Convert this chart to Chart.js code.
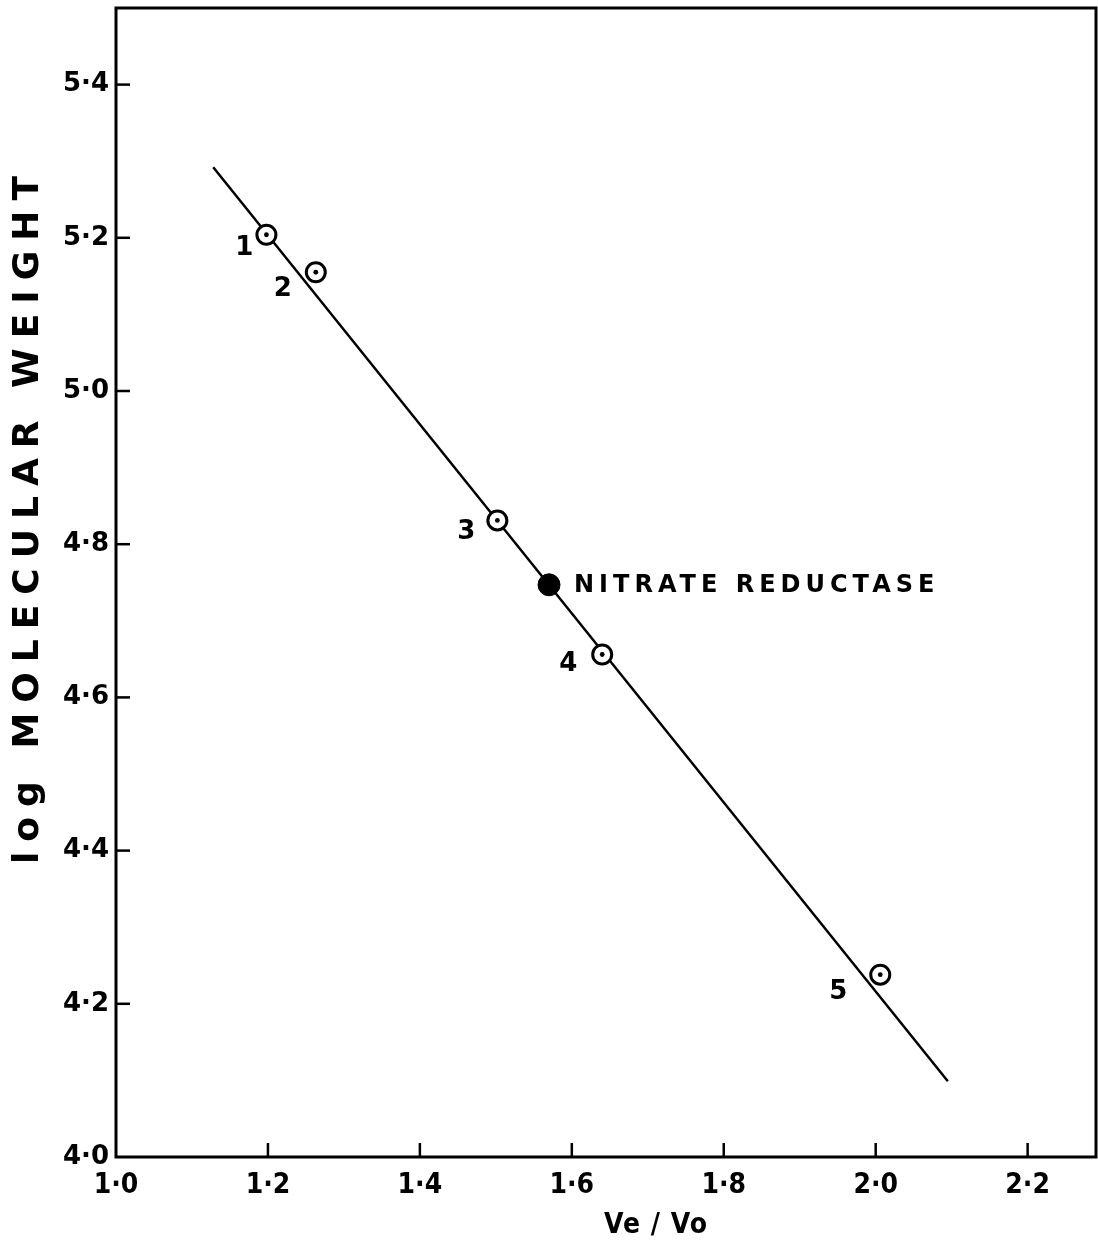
<!DOCTYPE html>
<html>
<head>
<meta charset="utf-8">
<script src="https://cdn.jsdelivr.net/npm/chart.js@4.4.1/dist/chart.umd.min.js"></script>
<style>
  html, body { margin: 0; padding: 0; background: #fff; overflow: hidden; }
  #wrap { width: 1098px; height: 1251px; }
</style>
</head>
<body>
<div id="wrap"><canvas id="mwChart"></canvas></div>
<script>
// calibration standards (Ve/Vo vs log MW)
const standardVeVo = [1.198, 1.263, 1.502, 1.64, 2.006];
const standardLogMw = [5.204, 5.155, 4.831, 4.656, 4.238];
const standardNames = ["1", "2", "3", "4", "5"];

const nitrateVeVo = [1.57];
const nitrateLogMw = [4.747];
const nitrateName = "NITRATE REDUCTASE";

// fitted line end points
const fitVeVo = [1.128, 2.095];
const fitLogMw = [5.292, 4.099];

const xTicks = [1.0, 1.2, 1.4, 1.6, 1.8, 2.0, 2.2];
const yTicks = [4.0, 4.2, 4.4, 4.6, 4.8, 5.0, 5.2, 5.4];

const xTitle = "Ve / Vo";
const yTitle = "log MOLECULAR WEIGHT";

const FONT = "'DejaVu Sans', sans-serif";
const FONT_COND = "'DejaVu Sans Condensed', 'DejaVu Sans', sans-serif";

const toPoints = (xs, ys) => xs.map((x, i) => ({ x: x, y: ys[i] }));
const dotLabel = (v) => v.toFixed(1).replace(".", "\u00B7");

// label offsets next to the markers, in px
const labelOffsets = [[-22, 14], [-33, 17], [-31, 12], [-34, 10], [-42, 18]];

const framePlugin = {
  id: "frame",
  afterDraw(chart) {
    const { ctx, chartArea: a, scales } = chart;
    ctx.save();
    ctx.strokeStyle = "#000";
    ctx.lineWidth = 3;
    ctx.strokeRect(a.left, a.top, a.right - a.left, a.bottom - a.top);

    // inward tick marks
    ctx.lineWidth = 2.5;
    scales.y.ticks.forEach((t) => {
      const py = scales.y.getPixelForValue(t.value);
      if (t.value === yTicks[0]) return;
      ctx.beginPath();
      ctx.moveTo(a.left, py);
      ctx.lineTo(a.left + 14, py);
      ctx.stroke();
    });
    scales.x.ticks.forEach((t) => {
      const px = scales.x.getPixelForValue(t.value);
      if (t.value === xTicks[0]) return;
      ctx.beginPath();
      ctx.moveTo(px, a.bottom);
      ctx.lineTo(px, a.bottom - 14);
      ctx.stroke();
    });
    ctx.restore();
  }
};

const labelPlugin = {
  id: "pointLabels",
  afterDatasetsDraw(chart) {
    const { ctx, scales } = chart;
    ctx.save();
    ctx.fillStyle = "#000";
    ctx.textBaseline = "middle";
    ctx.textAlign = "center";
    ctx.font = "bold 26px " + FONT;
    standardVeVo.forEach((x, i) => {
      const px = scales.x.getPixelForValue(x) + labelOffsets[i][0];
      const py = scales.y.getPixelForValue(standardLogMw[i]) + labelOffsets[i][1];
      ctx.fillText(standardNames[i], px, py);
    });

    ctx.textAlign = "left";
    ctx.font = "bold 24px " + FONT;
    ctx.letterSpacing = "5px";
    const nx = scales.x.getPixelForValue(nitrateVeVo[0]) + 25;
    const ny = scales.y.getPixelForValue(nitrateLogMw[0]) + 1;
    ctx.fillText(nitrateName, nx, ny);

    // axis titles
    ctx.textAlign = "center";
    ctx.font = "bold 28px " + FONT_COND;
    ctx.letterSpacing = "1px";
    ctx.fillText(xTitle, 656, 1226);

    ctx.save();
    ctx.translate(29, 515);
    ctx.rotate(-Math.PI / 2);
    ctx.font = "bold 36px " + FONT;
    ctx.letterSpacing = "10px";
    ctx.fillText(yTitle, 0, 0);
    ctx.restore();
    ctx.restore();
  }
};

new Chart(document.getElementById("mwChart"), {
  type: "scatter",
  data: {
    datasets: [
      {
        label: "nitrate",
        data: toPoints(nitrateVeVo, nitrateLogMw),
        pointRadius: 11,
        pointBackgroundColor: "#000",
        pointBorderColor: "#000",
        order: 1
      },
      {
        label: "centres",
        data: toPoints(standardVeVo, standardLogMw),
        pointRadius: 2.4,
        pointBackgroundColor: "#000",
        pointBorderWidth: 0,
        order: 2
      },
      {
        label: "standards",
        data: toPoints(standardVeVo, standardLogMw),
        pointRadius: 9.5,
        pointBackgroundColor: "#fff",
        pointBorderColor: "#000",
        pointBorderWidth: 3,
        order: 3
      },
      {
        label: "fit",
        data: toPoints(fitVeVo, fitLogMw),
        showLine: true,
        borderColor: "#000",
        borderWidth: 2.5,
        pointRadius: 0,
        order: 4
      }
    ]
  },
  options: {
    responsive: true,
    maintainAspectRatio: false,
    animation: false,
    layout: { autoPadding: false, padding: { top: 8, right: 2, left: 0, bottom: 0 } },
    plugins: {
      legend: { display: false },
      tooltip: { enabled: false }
    },
    scales: {
      x: {
        type: "linear",
        min: 1.0,
        max: 2.29,
        afterBuildTicks: (s) => { s.ticks = xTicks.map((v) => ({ value: v })); },
        afterFit: (s) => { s.height = 94; s.paddingLeft = 0; s.paddingRight = 0; },
        grid: { display: false, drawTicks: false },
        border: { display: false },
        ticks: {
          padding: 12,
          color: "#000",
          font: { family: FONT_COND, size: 28, weight: "bold" },
          maxRotation: 0,
          callback: (v) => dotLabel(v)
        }
      },
      y: {
        type: "linear",
        min: 4.0,
        max: 5.5,
        afterBuildTicks: (s) => { s.ticks = yTicks.map((v) => ({ value: v })); },
        afterFit: (s) => { s.width = 116; s.paddingTop = 0; s.paddingBottom = 0; },
        grid: { display: false, drawTicks: false },
        border: { display: false },
        ticks: {
          padding: 7,
          color: "#000",
          font: { family: FONT, size: 26, weight: "bold" },
          callback: (v) => dotLabel(v)
        }
      }
    }
  },
  plugins: [framePlugin, labelPlugin]
});
</script>
</body>
</html>
